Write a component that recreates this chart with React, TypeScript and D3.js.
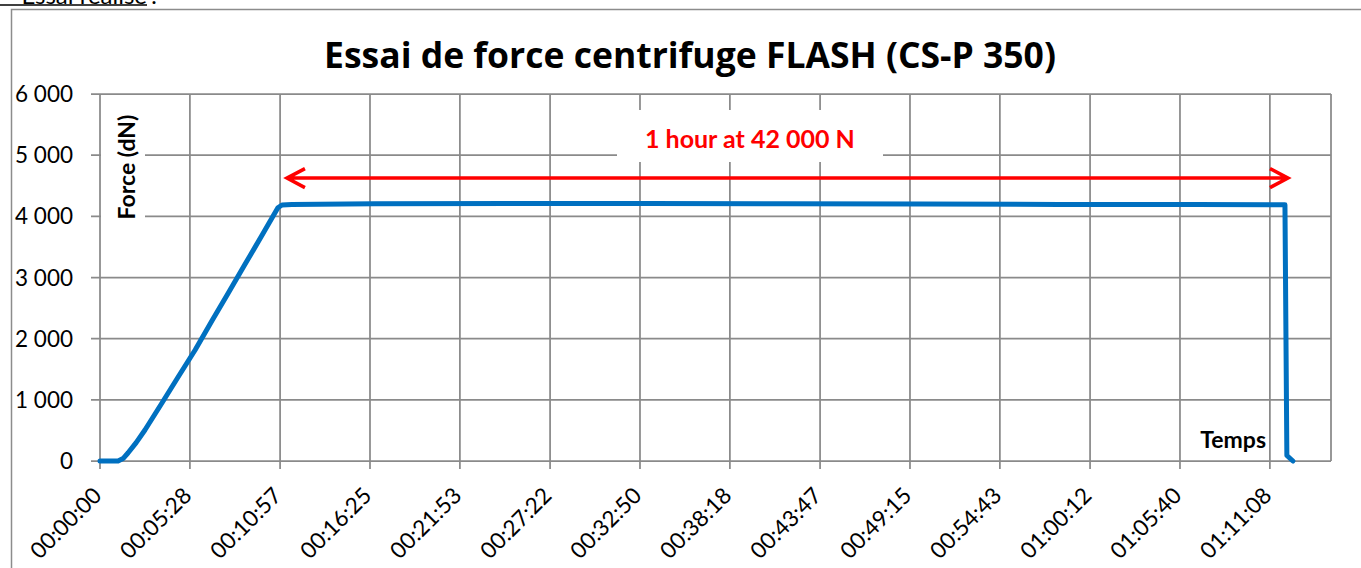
import React, { useEffect, useRef } from 'react';
import * as d3 from 'd3';

// time in seconds since start, force in dN
const timeSec = [0, 66, 84, 102, 132, 164, 226, 285, 347, 409, 467, 529, 591, 649, 664, 700, 1000, 1500, 2000, 2500, 3000, 3500, 4000, 4323, 4330, 4352];
const forceDN = [0, 0, 40, 131, 300, 507, 948, 1373, 1815, 2295, 2740, 3215, 3690, 4140, 4185, 4195, 4205, 4210, 4210, 4205, 4200, 4195, 4195, 4190, 90, 0];

const xTickLabels = ['00:00:00', '00:05:28', '00:10:57', '00:16:25', '00:21:53', '00:27:22', '00:32:50', '00:38:18', '00:43:47', '00:49:15', '00:54:43', '01:00:12', '01:05:40', '01:11:08'];
const yTicks = [0, 1000, 2000, 3000, 4000, 5000, 6000];

const xMax = 4491;
const arrowFrom = 682;
const arrowTo = 4334;
const arrowForce = 4625;
const labelTime = 2371;
const labelForce = 5117;

const toSec = (s: string) => {
  const [h, m, sec] = s.split(':').map(Number);
  return h * 3600 + m * 60 + sec;
};

const fmt = d3.formatLocale({ decimal: ',', thousands: ' ', grouping: [3], currency: ['', ' €'] }).format(',d');

const App: React.FC = () => {
  const svgRef = useRef<SVGSVGElement>(null);

  useEffect(() => {
    if (!svgRef.current) return;
    const svg = d3.select(svgRef.current);
    svg.selectAll('*').remove();

    const left = 100, right = 1331, top = 94, bottom = 461;
    const x = d3.scaleLinear().domain([0, xMax]).range([left, right]);
    const y = d3.scaleLinear().domain([0, 6000]).range([bottom, top]);
    const grid = '#8a8a8a';
    const font = 'Lato, "Open Sans", sans-serif';

    // outer frame and cut-off heading
    svg.append('path')
      .attr('d', `M11.5,1400 V9.5 H1400`)
      .attr('fill', 'none')
      .attr('stroke', '#8c8c8c')
      .attr('stroke-width', 1.5);
    svg.append('text')
      .attr('x', 147).attr('y', 3.5)
      .attr('text-anchor', 'end')
      .attr('font-family', font)
      .attr('font-size', 24)
      .text('Essai réalisé');
    svg.append('text')
      .attr('x', 151).attr('y', 3.5)
      .attr('font-family', font)
      .attr('font-size', 24)
      .text(':');
    svg.append('line')
      .attr('x1', 0).attr('x2', 147).attr('y1', 5).attr('y2', 5)
      .attr('stroke', '#000').attr('stroke-width', 1.5);

    // gridlines
    const xTicks = xTickLabels.map(toSec);
    svg.append('g').selectAll('line')
      .data(yTicks)
      .join('line')
      .attr('x1', left - 9).attr('x2', right)
      .attr('y1', d => y(d)).attr('y2', d => y(d))
      .attr('stroke', grid).attr('stroke-width', 1.75);
    svg.append('g').selectAll('line')
      .data(xTicks)
      .join('line')
      .attr('x1', d => x(d)).attr('x2', d => x(d))
      .attr('y1', top).attr('y2', bottom + 8)
      .attr('stroke', grid).attr('stroke-width', 1.75);
    svg.append('line')
      .attr('x1', right).attr('x2', right).attr('y1', top).attr('y2', bottom)
      .attr('stroke', grid).attr('stroke-width', 1.75);

    // tick labels
    svg.append('g').selectAll('text')
      .data(yTicks)
      .join('text')
      .attr('x', 73).attr('y', d => y(d))
      .attr('dy', '0.36em')
      .attr('text-anchor', 'end')
      .attr('font-family', font).attr('font-size', 22.5)
      .text(d => fmt(d));
    svg.append('g').selectAll('text')
      .data(xTicks)
      .join('text')
      .attr('transform', d => `translate(${x(d) + 3},497) rotate(-45)`)
      .attr('text-anchor', 'end')
      .attr('font-family', font).attr('font-size', 22.5)
      .text((d, i) => xTickLabels[i]);

    // title
    svg.append('text')
      .attr('x', 690).attr('y', 68)
      .attr('text-anchor', 'middle')
      .attr('font-family', '"Open Sans", Lato, sans-serif').attr('font-weight', 'bold').attr('font-size', 35.5)
      .text('Essai de force centrifuge FLASH (CS-P 350)');

    // axis titles
    svg.append('rect')
      .attr('x', left + 1).attr('y', 100).attr('width', 44).attr('height', 128)
      .attr('fill', '#fff');
    svg.append('text')
      .attr('transform', `translate(135,167) rotate(-90)`)
      .attr('text-anchor', 'middle')
      .attr('font-family', font).attr('font-weight', 'bold').attr('font-size', 23)
      .text('Force (dN)');
    svg.append('text')
      .attr('x', 1266).attr('y', 448)
      .attr('text-anchor', 'end')
      .attr('font-family', font).attr('font-weight', 'bold').attr('font-size', 23)
      .text('Temps');

    // annotation
    svg.append('rect')
      .attr('x', 617).attr('y', 110).attr('width', 266).attr('height', 52)
      .attr('fill', '#fff');
    svg.append('text')
      .attr('x', x(labelTime)).attr('y', y(labelForce))
      .attr('text-anchor', 'middle')
      .attr('font-family', font).attr('font-weight', 'bold').attr('font-size', 25)
      .attr('fill', '#ff0000')
      .text('1 hour at 42 000 N');

    const ay = y(arrowForce);
    const ax0 = x(arrowFrom);
    const ax1 = x(arrowTo);
    svg.append('path')
      .attr('d', `M${ax0},${ay} H${ax1} M${ax0 + 18},${ay - 9.5} L${ax0},${ay} L${ax0 + 18},${ay + 9.5} M${ax1 - 18},${ay - 9.5} L${ax1},${ay} L${ax1 - 18},${ay + 9.5}`)
      .attr('fill', 'none')
      .attr('stroke', '#ff0000')
      .attr('stroke-width', 3.5);

    // force curve
    const line = d3.line<number>()
      .x((d, i) => x(timeSec[i]))
      .y(d => y(d));
    svg.append('path')
      .datum(forceDN)
      .attr('d', line)
      .attr('fill', 'none')
      .attr('stroke', '#0070c0')
      .attr('stroke-width', 5)
      .attr('stroke-linejoin', 'round')
      .attr('stroke-linecap', 'round');
  }, []);

  return (
    <svg
      ref={svgRef}
      width={1361}
      height={568}
      style={{ position: 'absolute', left: 0, top: 0, background: '#fff' }}
    />
  );
};

export default App;
